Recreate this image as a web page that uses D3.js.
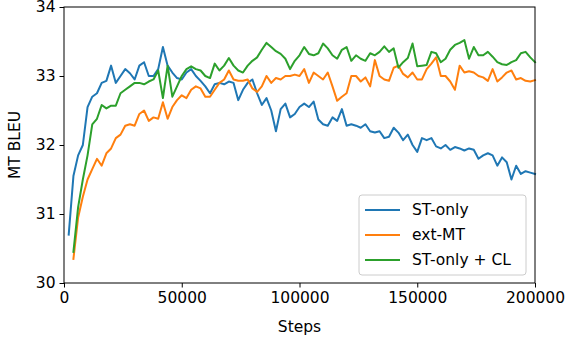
<!DOCTYPE html>
<html>
<head>
<meta charset="utf-8">
<script src="https://cdn.jsdelivr.net/npm/d3@7"></script>
<style>
  body { margin: 0; background: #fff; }
  text { font-family: "DejaVu Sans", sans-serif; }
</style>
</head>
<body>
<div id="chart"></div>
<script>
// data: BLEU evaluated every 2000 steps
const steps = d3.range(1, 101).map((k) => k * 2000)

const stOnly = [
  30.70, 31.55, 31.85, 32.00, 32.55, 32.70, 32.75, 32.90, 32.93, 33.15,
  32.90, 33.00, 33.10, 33.04, 32.95, 33.15, 33.20, 33.00, 33.00, 33.10,
  33.42, 33.15, 33.05, 32.97, 32.95, 33.05, 33.10, 33.00, 32.93, 32.85,
  32.75, 32.88, 32.90, 32.88, 32.92, 32.90, 32.65, 32.80, 32.90, 32.95,
  32.75, 32.58, 32.68, 32.50, 32.20, 32.52, 32.60, 32.40, 32.45, 32.55,
  32.60, 32.55, 32.63, 32.37, 32.30, 32.28, 32.40, 32.35, 32.52, 32.28,
  32.30, 32.28, 32.25, 32.30, 32.20, 32.18, 32.20, 32.10, 32.12, 32.25,
  32.18, 32.07, 32.15, 32.00, 31.90, 32.10, 32.07, 32.10, 31.98, 31.95,
  32.00, 31.93, 31.97, 31.95, 31.92, 31.95, 31.93, 31.80, 31.85, 31.88,
  31.85, 31.70, 31.82, 31.75, 31.50, 31.70, 31.58, 31.62, 31.60, 31.58,
]

const extMT = [
  null, 30.35, 30.95, 31.25, 31.50, 31.65, 31.80, 31.70, 31.88, 31.95,
  32.10, 32.15, 32.28, 32.30, 32.28, 32.45, 32.50, 32.35, 32.40, 32.38,
  32.62, 32.38, 32.55, 32.65, 32.72, 32.68, 32.80, 32.85, 32.82, 32.70,
  32.70, 32.80, 32.90, 32.95, 33.08, 32.95, 32.93, 32.93, 32.95, 32.82,
  32.77, 32.85, 33.00, 32.90, 32.97, 32.95, 33.00, 33.00, 33.02, 33.00,
  33.10, 32.90, 33.05, 33.00, 32.95, 33.05, 32.85, 32.64, 32.70, 32.75,
  33.00, 33.00, 32.92, 32.98, 32.85, 33.23, 33.00, 32.95, 32.93, 33.12,
  33.15, 33.03, 32.98, 33.05, 32.95, 32.95, 33.10, 33.18, 33.27, 33.00,
  33.00, 32.92, 32.80, 33.15, 33.05, 33.07, 33.05, 33.00, 32.98, 32.93,
  33.10, 32.92, 32.98, 33.05, 33.08, 32.95, 32.97, 32.93, 32.92, 32.94,
]

const stOnlyCL = [
  null, 30.45, 31.10, 31.50, 31.85, 32.30, 32.38, 32.58, 32.53, 32.57,
  32.57, 32.75, 32.80, 32.85, 32.90, 32.90, 32.88, 32.92, 32.95, 33.08,
  32.68, 33.15, 32.70, 32.85, 33.00, 33.10, 33.14, 33.10, 33.08, 33.00,
  32.97, 33.18, 33.08, 33.15, 33.26, 33.15, 33.08, 33.05, 33.15, 33.22,
  33.27, 33.38, 33.48, 33.42, 33.36, 33.32, 33.25, 33.10, 33.22, 33.30,
  33.42, 33.32, 33.30, 33.33, 33.47, 33.40, 33.30, 33.25, 33.38, 33.42,
  33.22, 33.30, 33.25, 33.22, 33.33, 33.30, 33.35, 33.43, 33.35, 33.40,
  33.12, 33.20, 33.26, 33.47, 33.14, 33.15, 33.16, 33.35, 33.33, 33.20,
  33.25, 33.38, 33.45, 33.48, 33.52, 33.25, 33.42, 33.30, 33.30, 33.35,
  33.28, 33.20, 33.17, 33.16, 33.20, 33.23, 33.33, 33.35, 33.27, 33.20,
]

const seriesNames = ['ST-only', 'ext-MT', 'ST-only + CL']
const seriesColors = ['#1f77b4', '#ff7f0e', '#2ca02c']
const yTicks = [30, 31, 32, 33, 34]
const xTicks = [0, 50000, 100000, 150000, 200000]

const series = [stOnly, extMT, stOnlyCL].map((vals, i) => ({
  name: seriesNames[i],
  color: seriesColors[i],
  values: steps.map((s, j) => ({ step: s, bleu: vals[j] })),
}))

// dimensions
const W = 566
const H = 340
const margin = { top: 7, right: 31, bottom: 57, left: 64 }
const width = W - margin.left - margin.right
const height = H - margin.top - margin.bottom
const fontSize = 15.5

const svg = d3
  .select('#chart')
  .append('svg')
  .attr('width', W)
  .attr('height', H)

const g = svg.append('g').attr('transform', `translate(${margin.left},${margin.top})`)

const x = d3.scaleLinear().domain([0, 200000]).range([0, width])
const y = d3.scaleLinear().domain([30, 34]).range([height, 0])

// axes
g.append('g')
  .attr('transform', `translate(0,${height})`)
  .call(d3.axisBottom(x).tickValues(xTicks).tickFormat(d3.format('d')).tickSizeOuter(0).tickSize(4.5).tickPadding(4))

g.append('g')
  .call(d3.axisLeft(y).tickValues(yTicks).tickFormat(d3.format('d')).tickSizeOuter(0).tickSize(4.5).tickPadding(4))

g.selectAll('.domain').remove()
g.selectAll('.tick line').attr('stroke', '#000').attr('stroke-width', 1)
g.selectAll('.tick text')
  .attr('font-size', fontSize)
  .attr('fill', '#000')
  .attr('font-family', '"DejaVu Sans", sans-serif')

// lines
const line = d3
  .line()
  .defined((d) => d.bleu != null)
  .x((d) => x(d.step))
  .y((d) => y(d.bleu))

g.append('g')
  .selectAll('.line')
  .data(series)
  .enter()
  .append('path')
  .attr('class', 'line')
  .attr('fill', 'none')
  .attr('stroke', (d) => d.color)
  .attr('stroke-width', 2)
  .attr('stroke-linejoin', 'round')
  .attr('stroke-linecap', 'square')
  .attr('d', (d) => line(d.values))

// frame
g.append('rect')
  .attr('width', width)
  .attr('height', height)
  .attr('fill', 'none')
  .attr('stroke', '#000')
  .attr('stroke-width', 1)

// axis titles
svg.append('text')
  .attr('x', margin.left + width / 2)
  .attr('y', 332)
  .attr('text-anchor', 'middle')
  .attr('font-size', fontSize)
  .text('Steps')

svg.append('text')
  .attr('transform', `translate(20,${margin.top + height / 2}) rotate(-90)`)
  .attr('text-anchor', 'middle')
  .attr('font-size', fontSize)
  .text('MT BLEU')

// legend (lower right)
const legend = g.append('g').attr('transform', `translate(${width - 176},${height - 88})`)
legend.append('rect')
  .attr('width', 167)
  .attr('height', 80)
  .attr('rx', 3)
  .attr('fill', '#fff')
  .attr('fill-opacity', 0.8)
  .attr('stroke', '#ccc')

const item = legend
  .selectAll('.item')
  .data(series)
  .enter()
  .append('g')
  .attr('class', 'item')
  .attr('transform', (d, i) => `translate(0,${15 + i * 25})`)

item.append('line')
  .attr('x1', 6)
  .attr('x2', 41)
  .attr('stroke', (d) => d.color)
  .attr('stroke-width', 2)

item.append('text')
  .attr('x', 53)
  .attr('dy', '0.35em')
  .attr('font-size', fontSize)
  .text((d) => d.name)
</script>
</body>
</html>
